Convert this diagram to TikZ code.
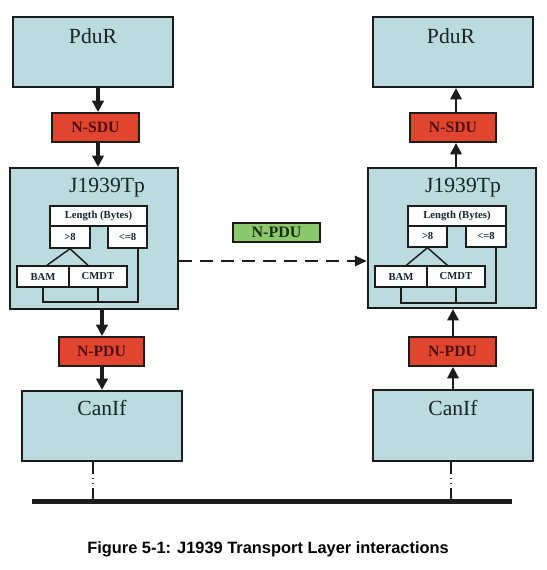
\documentclass[tikz,border=0pt]{standalone}
\usepackage{fontspec}
\setmainfont{Liberation Serif}
\newfontfamily\capfont{Liberation Sans}
\usetikzlibrary{arrows.meta,calc}
\definecolor{boxblue}{HTML}{BCDBDE}
\definecolor{boxred}{HTML}{E0452F}
\definecolor{boxgreen}{HTML}{8CC86C}
\definecolor{edge}{HTML}{1C1C1C}
\definecolor{txt}{HTML}{15252A}
\definecolor{redtxt}{HTML}{4E0E0E}
\definecolor{greentxt}{HTML}{16300E}
\newcommand{\bx}[6]{\node[#6, minimum width={(#4-#2)*0.75pt}, minimum height={(#5-#3)*0.75pt}] (#1) at ({(#2+#4)/2},{(#3+#5)/2}) {};}
\newcommand{\bxt}[7]{\node[#6, minimum width={(#4-#2)*0.75pt}, minimum height={(#5-#3)*0.75pt}] (#1) at ({(#2+#4)/2},{(#3+#5)/2}) {#7};}
\tikzset{
  layer/.style={draw=edge, fill=boxblue, line width=1.6pt, inner sep=0pt},
  sdu/.style={draw=edge, fill=boxred, line width=1.4pt, inner sep=0pt, text=redtxt, font=\bfseries\fontsize{11.8}{13}\selectfont},
  gpdu/.style={draw=edge, fill=boxgreen, line width=1.4pt, inner sep=0pt, text=greentxt, font=\bfseries\fontsize{12}{13}\selectfont},
  inner/.style={draw=edge, fill=white, line width=1.1pt, inner sep=0pt, text=txt, font=\bfseries\fontsize{8}{9}\selectfont},
  title/.style={text=txt, font=\fontsize{16.2}{18}\selectfont, inner sep=0pt},
  wire/.style={draw=edge, line width=1.1pt},
  arrthick/.style={draw=edge, line width=2.4pt, -{Triangle[width=8.5pt,length=8.5pt]}},
  arrthin/.style={draw=edge, line width=1.6pt, -{Triangle[width=8.5pt,length=8.5pt]}},
  dasharr/.style={draw=edge, line width=1.9pt, dash pattern=on 9.75pt off 6pt, -{Triangle[width=7.5pt,length=9pt]}},
  bus/.style={draw=edge, line width=3.8pt},
  drop/.style={draw=edge, line width=1.3pt, dash pattern=on 9pt off 3pt on 1pt off 2.5pt on 1pt off 3pt on 20pt},
}
\begin{document}
\begin{tikzpicture}[x=0.75pt,y=-0.75pt]
\useasboundingbox (0,0) rectangle (546,570);
% ---------- left column ----------
\bx{pduL}{13}{17}{173}{87}{layer}
\node[title] (pduLt) at (93,36) {PduR};
\bxt{nsduL}{52}{113}{139}{142}{sdu}{N-SDU}
\bx{tpL}{10}{168}{178}{309}{layer}
\node[title] (tpLt) at (107,188) {J1939Tp};
\bxt{lenL}{50}{206}{147}{226}{inner}{Length (Bytes)}
\bxt{gtL}{50}{226}{90}{248}{inner}{>8}
\bxt{leL}{108}{226}{147}{248}{inner}{<=8}
\bxt{bamL}{17}{266}{69}{287}{inner}{BAM}
\bxt{cmdtL}{69}{266}{127}{287}{inner}{CMDT}
\bxt{npduL}{59}{337}{144}{366}{sdu}{N-PDU}
\bx{canL}{22}{391}{182}{461}{layer}
\node[title] (canLt) at (102,408) {CanIf};
% ---------- right column ----------
\bx{pduR}{373}{17}{533}{87}{layer}
\node[title] (pduRt) at (451,36) {PduR};
\bxt{nsduR}{410}{113}{496}{142}{sdu}{N-SDU}
\bx{tpR}{368}{168}{536}{308}{layer}
\node[title] (tpRt) at (463,188) {J1939Tp};
\bxt{lenR}{408}{206}{506}{226}{inner}{Length (Bytes)}
\bxt{gtR}{408}{226}{447}{247}{inner}{>8}
\bxt{leR}{466}{226}{506}{247}{inner}{<=8}
\bxt{bamR}{375}{266}{427}{287}{inner}{BAM}
\bxt{cmdtR}{427}{266}{485}{287}{inner}{CMDT}
\bxt{npduR}{409}{337}{496}{366}{sdu}{N-PDU}
\bx{canR}{373}{390}{533}{461}{layer}
\node[title] (canRt) at (453,408) {CanIf};
% ---------- middle ----------
\bxt{npduG}{233}{223}{320}{242}{gpdu}{N-PDU}
% ---------- helper coordinates ----------
\coordinate (axL1) at (98,0);
\coordinate (axL2) at (102,0);
\coordinate (axR1) at (456,0);
\coordinate (axR2) at (453,0);
\coordinate (mid) at (0,261);
\coordinate (jL) at (138,302);
\coordinate (jR) at (496,303);
\coordinate (busL) at (32,501.5);
\coordinate (busR) at (512,501.5);
\coordinate (dropL) at (93,499);
\coordinate (dropR) at (451,499);
% ---------- inner wiring ----------
\draw[wire] (gtL.south) -- ([xshift=3pt]bamL.north);
\draw[wire] (gtL.south) -- ([xshift=-7.5pt]cmdtL.north);
\draw[wire] (bamL.south) |- (jL) -- (jL |- leL.south);
\draw[wire] (cmdtL.south) -- (cmdtL.south |- jL);
\draw[wire] (gtR.south) -- ([xshift=4pt]bamR.north);
\draw[wire] (gtR.south) -- ([xshift=-6.5pt]cmdtR.north);
\draw[wire] (bamR.south) |- (jR) -- (jR |- leR.south);
\draw[wire] (cmdtR.south) -- (cmdtR.south |- jR);
% ---------- arrows ----------
\draw[arrthick] (pduL.south -| axL1) -- (nsduL.north -| axL1);
\draw[arrthick] (nsduL.south -| axL1) -- (tpL.north -| axL1);
\draw[arrthick] (tpL.south -| axL2) -- (npduL.north -| axL2);
\draw[arrthick] (npduL.south -| axL2) -- (canL.north -| axL2);
\draw[arrthin] (nsduR.north -| axR1) -- (pduR.south -| axR1);
\draw[arrthin] (tpR.north -| axR1) -- (nsduR.south -| axR1);
\draw[arrthin] (npduR.north -| axR2) -- (tpR.south -| axR2);
\draw[arrthin] (canR.north -| axR2) -- (npduR.south -| axR2);
\draw[dasharr] (tpL.east |- mid) -- (tpR.west |- mid);
% ---------- bus ----------
\draw[bus] (busL) -- (busR);
\draw[drop] (canL.south -| dropL) -- (dropL);
\draw[drop] (canR.south -| dropR) -- (dropR);
% ---------- caption ----------
\node[anchor=base west, inner sep=0pt, font=\capfont\bfseries\fontsize{12.3}{14}\selectfont] (cap) at (87,553) {Figure 5-1: J1939 Transport Layer interactions};
\end{tikzpicture}
\end{document}
